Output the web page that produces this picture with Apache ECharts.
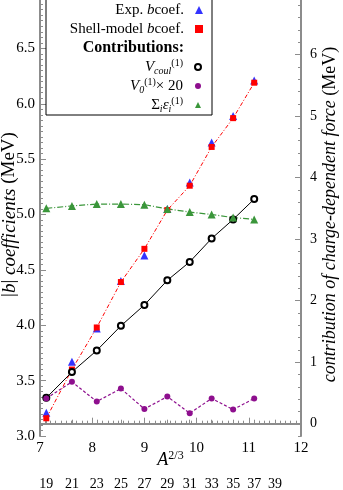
<!DOCTYPE html>
<html lang="en">
<head>
    <meta charset="UTF-8">
    <title>b coefficients</title>
    <style>
        html, body { margin: 0; padding: 0; background: #fff; }
        #chart-box { width: 343px; height: 490px; }
    </style>
</head>
<body>
<div id="chart-box"></div>
<script src="https://cdn.jsdelivr.net/npm/echarts@6/dist/echarts.min.js"></script>
<script>
    // mass numbers A (x position is A^(2/3))
    var massNumbers = [19, 21, 23, 25, 27, 29, 31, 33, 35, 37];
    // left axis, MeV
    var expB   = [3.21, 3.67, 3.97, 4.40, 4.63, 5.05, 5.29, 5.65, 5.89, 6.21];
    var shellB = [3.16, 3.60, 3.98, 4.39, 4.69, 5.04, 5.26, 5.61, 5.87, 6.19];
    // right axis, MeV
    var vCoul  = [0.42, 0.84, 1.19, 1.59, 1.93, 2.33, 2.63, 3.01, 3.32, 3.65];
    var v0x20  = [0.41, 0.68, 0.36, 0.57, 0.24, 0.44, 0.17, 0.41, 0.23, 0.41];
    var sumEps = [3.50, 3.54, 3.57, 3.57, 3.56, 3.49, 3.44, 3.40, 3.35, 3.32];
    // tick labels of the lower A axis
    var aTicks = [19, 21, 23, 25, 27, 29, 31, 33, 35, 37, 39];
    var rightTicks = [0, 1, 2, 3, 4, 5, 6, 7];

    var FONT = '"Liberation Serif", "DejaVu Serif", serif';
    var AXIS_COLOR = '#8c8c8c';

    function toX(a) { return Math.pow(a, 2 / 3); }
    function pairs(vals) {
        return massNumbers.map(function (a, i) { return [toX(a), vals[i]]; });
    }
    var aTickPos = aTicks.map(toX);
    var rightMinor = [];
    for (var k = -1; k <= 35; k++) {
        if (k % 5 !== 0) rightMinor.push(k * 0.2);
    }

    var rich = {
        i: { fontStyle: 'italic', fontFamily: FONT, fontSize: 15, lineHeight: 18, color: '#000' },
        sup: { fontFamily: FONT, fontSize: 10, lineHeight: 10, verticalAlign: 'top', color: '#000' },
        sub: { fontFamily: FONT, fontSize: 10, lineHeight: 10, verticalAlign: 'bottom', fontStyle: 'italic', color: '#000' }
    };
    var legendText = {
        'Exp. b coef.': 'Exp. {i|b}coef.',
        'Shell-model b coef.': 'Shell-model {i|b}coef.',
        'V_coul': '{i|V}{sub|coul}{sup|(1)}',
        'V0x20': '{i|V}{sub|0}{sup|(1)}× 20',
        'SumEps': 'Σ{sub|i}{i|ε}{sub|i}{sup|(1)}'
    };

    var myChart = echarts.init(document.getElementById('chart-box'));

    var option = {
        animation: false,
        grid: { left: 40, right: 42, top: -7, bottom: 54, outerBoundsMode: 'none' },
        legend: [
            {
                orient: 'vertical', align: 'right', right: 140, top: 1, padding: 0,
                itemWidth: 8, itemHeight: 8, itemGap: 1,
                data: [{ name: 'Exp. b coef.', icon: 'triangle' }, { name: 'Shell-model b coef.', icon: 'rect' }],
                formatter: function (n) { return legendText[n]; },
                textStyle: { fontFamily: FONT, fontSize: 15, lineHeight: 17, color: '#000', padding: [0, 6, 0, 0], rich: rich }
            },
            {
                orient: 'vertical', align: 'right', right: 141, top: 58, padding: 0,
                itemWidth: 6, itemHeight: 6, itemGap: 1,
                data: [{ name: 'V_coul', icon: 'emptyCircle' }, { name: 'V0x20', icon: 'circle' }, { name: 'SumEps', icon: 'triangle' }],
                formatter: function (n) { return legendText[n]; },
                textStyle: { fontFamily: FONT, fontSize: 15, lineHeight: 18, color: '#000', padding: [0, 7, 0, 0], rich: rich }
            }
        ],
        graphic: [
            { type: 'rect', shape: { x: 46, y: -5, width: 166, height: 120 }, style: { fill: 'none', stroke: '#000', lineWidth: 1 }, z: 10 },
            { type: 'text', x: 184, y: 48, style: { text: 'Contributions:', textAlign: 'right', textVerticalAlign: 'middle', font: 'bold 16px ' + FONT, fill: '#000' }, z: 10 }
        ],
        xAxis: [
            {
                type: 'value', min: 7, max: 12, interval: 1, position: 'bottom',
                axisLine: { lineStyle: { color: AXIS_COLOR, width: 2 } },
                axisTick: { inside: true, length: 6, lineStyle: { color: AXIS_COLOR } },
                minorTick: { show: true, splitNumber: 10, length: 3, lineStyle: { color: AXIS_COLOR } },
                splitLine: { show: false },
                axisLabel: { fontFamily: FONT, fontSize: 15, color: '#000', margin: 5 },
                name: '{a|A}{s|2/3}', nameLocation: 'middle', nameGap: 14, nameMoveOverlap: false,
                nameTextStyle: { rich: {
                    a: { fontFamily: FONT, fontStyle: 'italic', fontSize: 18, lineHeight: 20, color: '#000' },
                    s: { fontFamily: FONT, fontSize: 12, lineHeight: 12, verticalAlign: 'top', color: '#000' }
                } }
            },
            {
                type: 'value', min: 7, max: 12, position: 'bottom', offset: 38,
                axisLine: { lineStyle: { color: AXIS_COLOR, width: 2 } },
                axisTick: { inside: true, length: 4, customValues: aTickPos, lineStyle: { color: AXIS_COLOR } },
                splitLine: { show: false },
                axisLabel: {
                    customValues: aTickPos, fontFamily: FONT, fontSize: 14, color: '#000', margin: 3,
                    formatter: function (v) { return String(Math.round(Math.pow(v, 1.5))); }
                }
            }
        ],
        yAxis: [
            {
                type: 'value', min: 3, max: 7, interval: 0.5, position: 'left',
                axisLine: { show: true, lineStyle: { color: AXIS_COLOR, width: 2 } },
                axisTick: { inside: true, length: 6, lineStyle: { color: AXIS_COLOR } },
                minorTick: { show: true, splitNumber: 10, length: 3, lineStyle: { color: AXIS_COLOR } },
                splitLine: { show: false },
                axisLabel: { fontFamily: FONT, fontSize: 15, color: '#000', margin: 5, formatter: function (v) { return v.toFixed(1); } },
                name: '|{i|b}| {i|coefficients} (MeV)', nameLocation: 'middle', nameGap: 21, nameRotate: 90, nameMoveOverlap: false,
                nameTextStyle: { fontFamily: FONT, fontSize: 19, color: '#000',
                    rich: { i: { fontFamily: FONT, fontStyle: 'italic', fontSize: 19, color: '#000' } } }
            },
            {
                type: 'value', min: -0.2, max: 7, position: 'right',
                axisLine: { show: true, lineStyle: { color: AXIS_COLOR, width: 2 } },
                axisTick: { inside: true, length: 6, customValues: rightTicks, lineStyle: { color: AXIS_COLOR } },
                splitLine: { show: false },
                axisLabel: { customValues: rightTicks, fontFamily: FONT, fontSize: 14, color: '#000', margin: 9 },
                name: '{i|contribution of charge-dependent force} (MeV)', nameLocation: 'middle', nameGap: 20, nameRotate: 90, nameMoveOverlap: false,
                nameTextStyle: { fontFamily: FONT, fontSize: 18, color: '#000',
                    rich: { i: { fontFamily: FONT, fontStyle: 'italic', fontSize: 18, color: '#000' } } }
            },
            {
                type: 'value', min: -0.2, max: 7, position: 'right',
                axisLine: { show: false },
                axisTick: { show: true, inside: true, length: 3, customValues: rightMinor, lineStyle: { color: AXIS_COLOR } },
                splitLine: { show: false },
                axisLabel: { show: false }
            }
        ],
        series: [
            {
                name: 'Exp. b coef.', type: 'scatter', xAxisIndex: 0, yAxisIndex: 0,
                symbol: 'triangle', symbolSize: 8, itemStyle: { color: '#0000ff' },
                data: pairs(expB)
            },
            {
                name: 'Shell-model b coef.', type: 'line', xAxisIndex: 0, yAxisIndex: 0,
                symbol: 'rect', symbolSize: 6, itemStyle: { color: '#ff0000' },
                lineStyle: { color: '#ff0000', width: 1, type: [4, 2, 1, 2] },
                data: pairs(shellB)
            },
            {
                name: 'V_coul', type: 'line', xAxisIndex: 0, yAxisIndex: 1,
                symbol: 'emptyCircle', symbolSize: 6, itemStyle: { color: '#000', borderWidth: 1.2 },
                lineStyle: { color: '#000', width: 1 },
                data: pairs(vCoul)
            },
            {
                name: 'V0x20', type: 'line', xAxisIndex: 0, yAxisIndex: 1,
                symbol: 'circle', symbolSize: 6, itemStyle: { color: '#8e0f8e' },
                lineStyle: { color: '#8e0f8e', width: 1.2, type: [3, 2] },
                data: pairs(v0x20)
            },
            {
                name: 'SumEps', type: 'line', xAxisIndex: 0, yAxisIndex: 1,
                symbol: 'triangle', symbolSize: 8, itemStyle: { color: '#3a963a' },
                lineStyle: { color: '#3a963a', width: 1.2, type: [6, 2, 1, 2] },
                data: pairs(sumEps)
            }
        ]
    };
    myChart.setOption(option);
</script>
</body>
</html>
